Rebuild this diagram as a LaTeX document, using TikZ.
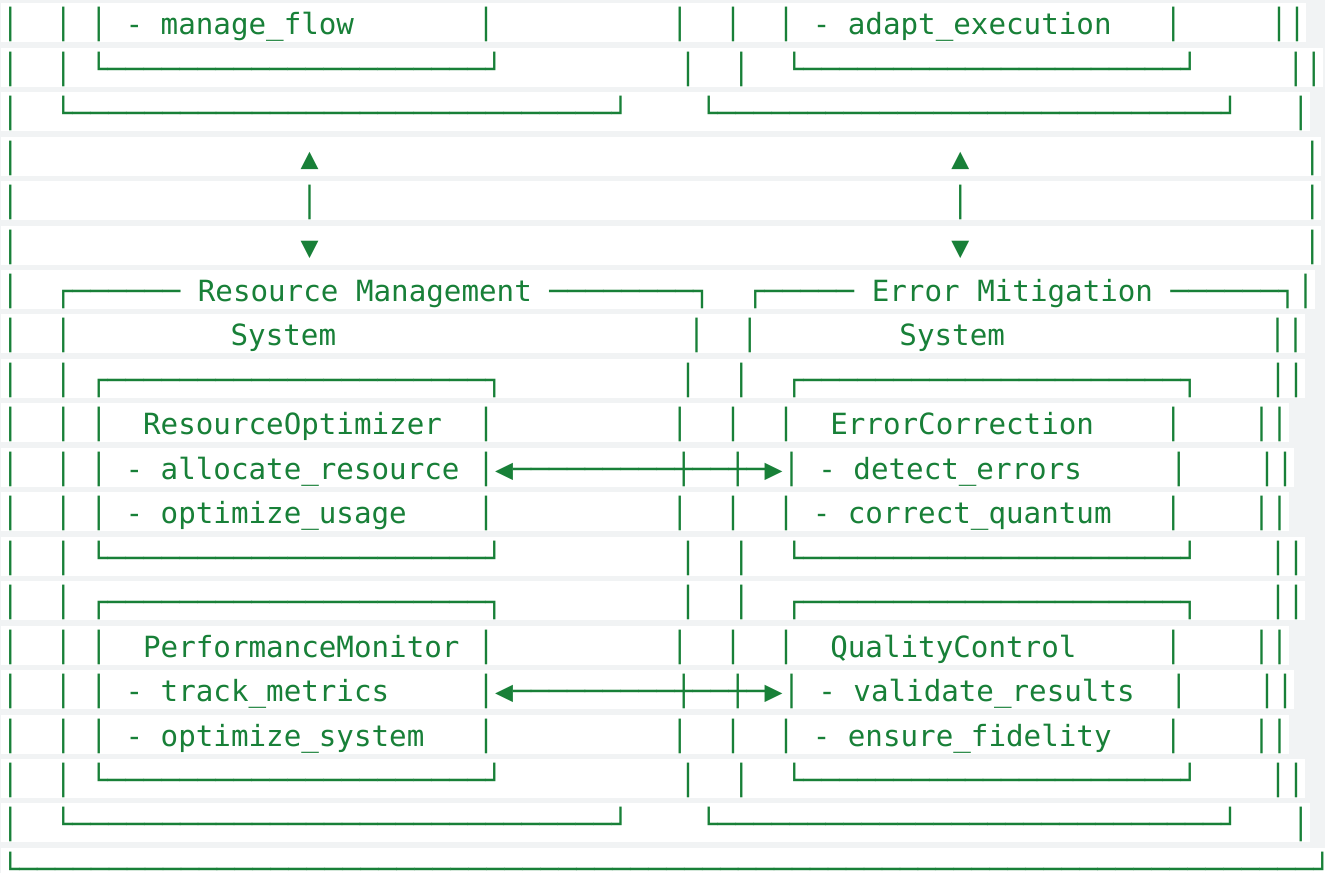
\documentclass[tikz,border=0pt]{standalone}
\usepackage{fontspec}
\usepackage{tikz}
\usetikzlibrary{positioning}

\definecolor{asciigreen}{HTML}{188038}
\definecolor{pagegray}{HTML}{F1F3F4}

\newfontfamily\asciifont{DejaVu Sans Mono}
\newfontfamily\asciiboxfont[FakeStretch=1.0225]{DejaVu Sans Mono}

% box drawing characters come out a bit wider than the letters
\newXeTeXintercharclass\asciiboxclass
\XeTeXcharclass`─=\asciiboxclass
\XeTeXcharclass`│=\asciiboxclass
\XeTeXcharclass`┌=\asciiboxclass
\XeTeXcharclass`┐=\asciiboxclass
\XeTeXcharclass`└=\asciiboxclass
\XeTeXcharclass`┘=\asciiboxclass
\XeTeXcharclass`┼=\asciiboxclass
\XeTeXcharclass`▲=\asciiboxclass
\XeTeXcharclass`▼=\asciiboxclass
\XeTeXcharclass`◀=\asciiboxclass
\XeTeXcharclass`▶=\asciiboxclass
\XeTeXinterchartoks 0 \asciiboxclass={\asciiboxfont}
\XeTeXinterchartoks 4095 \asciiboxclass={\asciiboxfont}
\XeTeXinterchartoks \asciiboxclass 0={\asciifont}
\XeTeXinterchartoks \asciiboxclass 4095={\asciifont}

\newcommand\asciirowfont{\asciifont\fontsize{14.6pt}{14.6pt}\selectfont\frenchspacing\XeTeXinterchartokenstate=1\relax}
\ExplSyntaxOn
\newcommand\asciirule[1]{\prg_replicate:nn{#1}{─}}
\newcommand\asciigap[1]{\prg_replicate:nn{#1}{\c_space_tl}}
\ExplSyntaxOff

\tikzset{
  asciirow/.style={anchor=north west, fill=white, inner xsep=0pt, inner ysep=0pt, outer sep=0pt, text height=15.75pt, text depth=3.75pt, text=asciigreen, font=\asciirowfont},
  nextrow/.style={below=2.725pt of #1.south west, anchor=north west}
}

\begin{document}
\begin{tikzpicture}[x=0.5pt, y=-0.5pt]
\fill[pagegray] (0,0) rectangle (1325,873);
\useasboundingbox (0,0) rectangle (1325,873);
\clip (0,0) rectangle (1325,873);

\node[asciirow] (r1) at (1.3,3.3) {│\asciigap{2}│ │ - manage\_flow\asciigap{7}│\asciigap{10}│\asciigap{2}│\asciigap{2}│ - adapt\_execution\asciigap{3}│\asciigap{5}││};
\node[asciirow, nextrow=r1] (r2) {│\asciigap{2}│ └\asciirule{21}┘\asciigap{10}│\asciigap{2}│\asciigap{2}└\asciirule{21}┘\asciigap{5}││};
\node[asciirow, nextrow=r2] (r3) {│\asciigap{2}└\asciirule{30}┘\asciigap{4}└\asciirule{28}┘\asciigap{3}│};
\node[asciirow, nextrow=r3] (r4) {│\asciigap{16}▲\asciigap{36}▲\asciigap{19}│};
\node[asciirow, nextrow=r4] (r5) {│\asciigap{16}│\asciigap{36}│\asciigap{19}│};
\node[asciirow, nextrow=r5] (r6) {│\asciigap{16}▼\asciigap{36}▼\asciigap{19}│};
\node[asciirow, nextrow=r6] (r7) {│\asciigap{2}┌\asciirule{6} Resource Management \asciirule{8}┐\asciigap{2}┌\asciirule{5} Error Mitigation \asciirule{6}┐│};
\node[asciirow, nextrow=r7] (r8) {│\asciigap{2}│\asciigap{9}System\asciigap{20}│\asciigap{2}│\asciigap{8}System\asciigap{15}││};
\node[asciirow, nextrow=r8] (r9) {│\asciigap{2}│ ┌\asciirule{21}┐\asciigap{10}│\asciigap{2}│\asciigap{2}┌\asciirule{21}┐\asciigap{4}││};
\node[asciirow, nextrow=r9] (r10) {│\asciigap{2}│ │\asciigap{2}ResourceOptimizer\asciigap{2}│\asciigap{10}│\asciigap{2}│\asciigap{2}│\asciigap{2}ErrorCorrection\asciigap{4}│\asciigap{4}││};
\node[asciirow, nextrow=r10] (r11) {│\asciigap{2}│ │ - allocate\_resource │◀\asciirule{9}┼──┼─▶│ - detect\_errors\asciigap{5}│\asciigap{4}││};
\node[asciirow, nextrow=r11] (r12) {│\asciigap{2}│ │ - optimize\_usage\asciigap{4}│\asciigap{10}│\asciigap{2}│\asciigap{2}│ - correct\_quantum\asciigap{3}│\asciigap{4}││};
\node[asciirow, nextrow=r12] (r13) {│\asciigap{2}│ └\asciirule{21}┘\asciigap{10}│\asciigap{2}│\asciigap{2}└\asciirule{21}┘\asciigap{4}││};
\node[asciirow, nextrow=r13] (r14) {│\asciigap{2}│ ┌\asciirule{21}┐\asciigap{10}│\asciigap{2}│\asciigap{2}┌\asciirule{21}┐\asciigap{4}││};
\node[asciirow, nextrow=r14] (r15) {│\asciigap{2}│ │\asciigap{2}PerformanceMonitor │\asciigap{10}│\asciigap{2}│\asciigap{2}│\asciigap{2}QualityControl\asciigap{5}│\asciigap{4}││};
\node[asciirow, nextrow=r15] (r16) {│\asciigap{2}│ │ - track\_metrics\asciigap{5}│◀\asciirule{9}┼──┼─▶│ - validate\_results\asciigap{2}│\asciigap{4}││};
\node[asciirow, nextrow=r16] (r17) {│\asciigap{2}│ │ - optimize\_system\asciigap{3}│\asciigap{10}│\asciigap{2}│\asciigap{2}│ - ensure\_fidelity\asciigap{3}│\asciigap{4}││};
\node[asciirow, nextrow=r17] (r18) {│\asciigap{2}│ └\asciirule{21}┘\asciigap{10}│\asciigap{2}│\asciigap{2}└\asciirule{21}┘\asciigap{4}││};
\node[asciirow, nextrow=r18] (r19) {│\asciigap{2}└\asciirule{30}┘\asciigap{4}└\asciirule{28}┘\asciigap{3}│};
\node[asciirow, nextrow=r19] (r20) {└\asciirule{72}┘};
\end{tikzpicture}
\end{document}
